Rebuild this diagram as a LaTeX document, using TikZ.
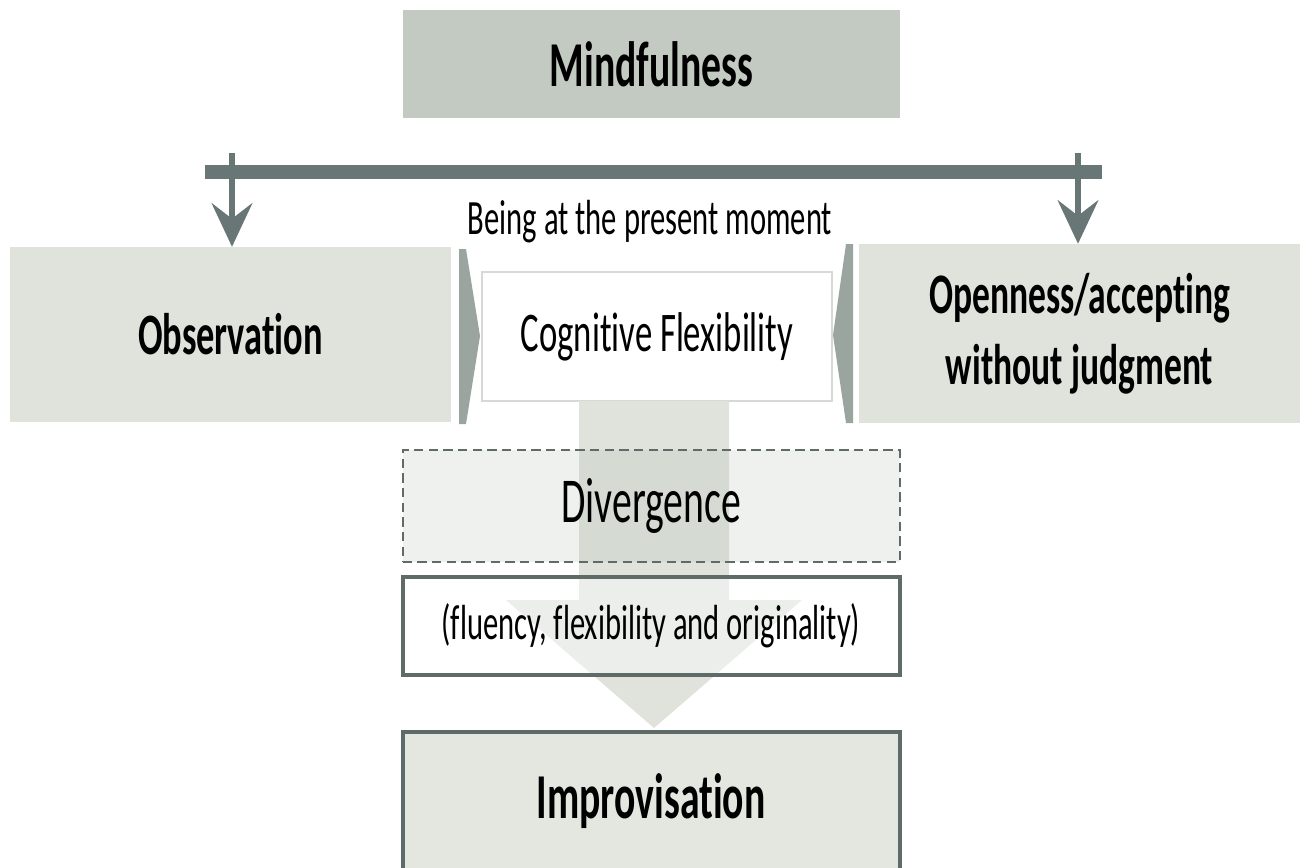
\documentclass[tikz,border=0pt]{standalone}
\usepackage{fontspec}
\setmainfont{Carlito}[Ligatures=CommonOff]
\usepackage{graphicx}
\usepackage{tikz}
\usetikzlibrary{arrows.meta}

\definecolor{mindgrey}{HTML}{C3CAC1}
\definecolor{sidegrey}{HTML}{DFE3DB}
\definecolor{bargrey}{HTML}{687776}
\definecolor{chevgrey}{HTML}{9AA5A0}
\definecolor{flowgrey}{HTML}{DFE3DC}
\definecolor{edgegrey}{HTML}{5F6B69}
\definecolor{divgrey}{HTML}{B0B8AE}
\definecolor{cogedge}{HTML}{D6DAD4}

% narrow type, as in the slide
\newcommand{\nar}[1]{\scalebox{0.62}[1]{#1}}

\tikzset{
  wide/.style={minimum width=372.75pt, inner sep=0pt},
  sidebox/.style={fill=sidegrey, minimum width=330.75pt, minimum height=132pt, inner sep=0pt, align=center},
  drop/.style={bargrey, line width=5pt, -{Stealth[length=33pt, width=31pt, inset=12pt, line width=0pt]}},
}

\begin{document}
\begin{tikzpicture}[x=0.75pt,y=0.75pt,yscale=-1,xscale=1]
\useasboundingbox (0,0) rectangle (1302,867);

%Shape: Rectangle [Mindfulness]
\node[wide, fill=mindgrey, minimum height=81pt, font=\bfseries\fontsize{48}{58}\selectfont] (mind) at (651.5,64) {\nar{Mindfulness}};

%Shape: Boxed Line [bar]
\coordinate (barl) at (205,172);
\coordinate (barr) at (1102,172);
\draw[bargrey, line width=10.5pt] (barl) -- (barr);

%Shape: Rectangle [side boxes]
\node[sidebox, minimum height=131.25pt, font=\bfseries\fontsize{44}{54}\selectfont] (obs) at (230.5,334.5) {\nar{Observation}};
\node[sidebox, minimum height=134.25pt, font=\bfseries\fontsize{43}{53}\selectfont] (open) at (1079.5,333.5) {\nar{Openness/accepting}\\\nar{without judgment}};

%Shape: Arrow [bar down to side boxes]
\coordinate (lt) at (232,153);
\coordinate (rt) at (1078,153);
\draw[drop] (lt) -- (lt |- obs.north);
\draw[drop] (rt) -- (rt |- open.north);

% Text Node
\node[font=\fontsize{37}{44}\selectfont, anchor=base] (moment) at (650,234) {\nar{Being at the present moment}};

%Shape: Rectangle [Cognitive Flexibility]
\node[draw=cogedge, line width=1pt, fill=white, minimum width=262.5pt, minimum height=96.75pt, inner sep=0pt, font=\fontsize{42}{50}\selectfont] (cog) at (657,336.5) {\nar{Cognitive Flexibility}};

%Shape: Chevrons
\fill[chevgrey] (459,249) -- (466,249) -- (480,336) -- (466,424) -- (459,424) -- cycle;
\fill[chevgrey] (853,244) -- (846,244) -- (833,335) -- (846,423) -- (853,423) -- cycle;

%Shape: Down Arrow
\fill[flowgrey] (579,401) -- (579,600) -- (506,600) -- (654,728) -- (802,600) -- (729,600) -- (729,401) -- cycle;

%Shape: Rectangle [Divergence]
\node[wide, draw=edgegrey, line width=1.5pt, dash pattern={on 7pt off 4pt}, fill=divgrey, fill opacity=0.2, text opacity=1, minimum height=84pt, font=\fontsize{48}{56}\selectfont] (div) at (651,506) {\nar{Divergence}};

%Shape: Rectangle [fluency]
\node[wide, draw=edgegrey, line width=3pt, fill=white, fill opacity=0.4, text opacity=1, draw opacity=1, minimum height=73.5pt, font=\fontsize{37}{44}\selectfont] (flu) at (651,626) {\nar{(fluency, flexibility and originality)}};

%Shape: Rectangle [Improvisation]
\node[wide, draw=edgegrey, line width=3pt, fill=sidegrey!85!white, minimum height=103.5pt, font=\bfseries\fontsize{48}{58}\selectfont] (impro) at (651,801) {\nar{Improvisation}};

\end{tikzpicture}
\end{document}
